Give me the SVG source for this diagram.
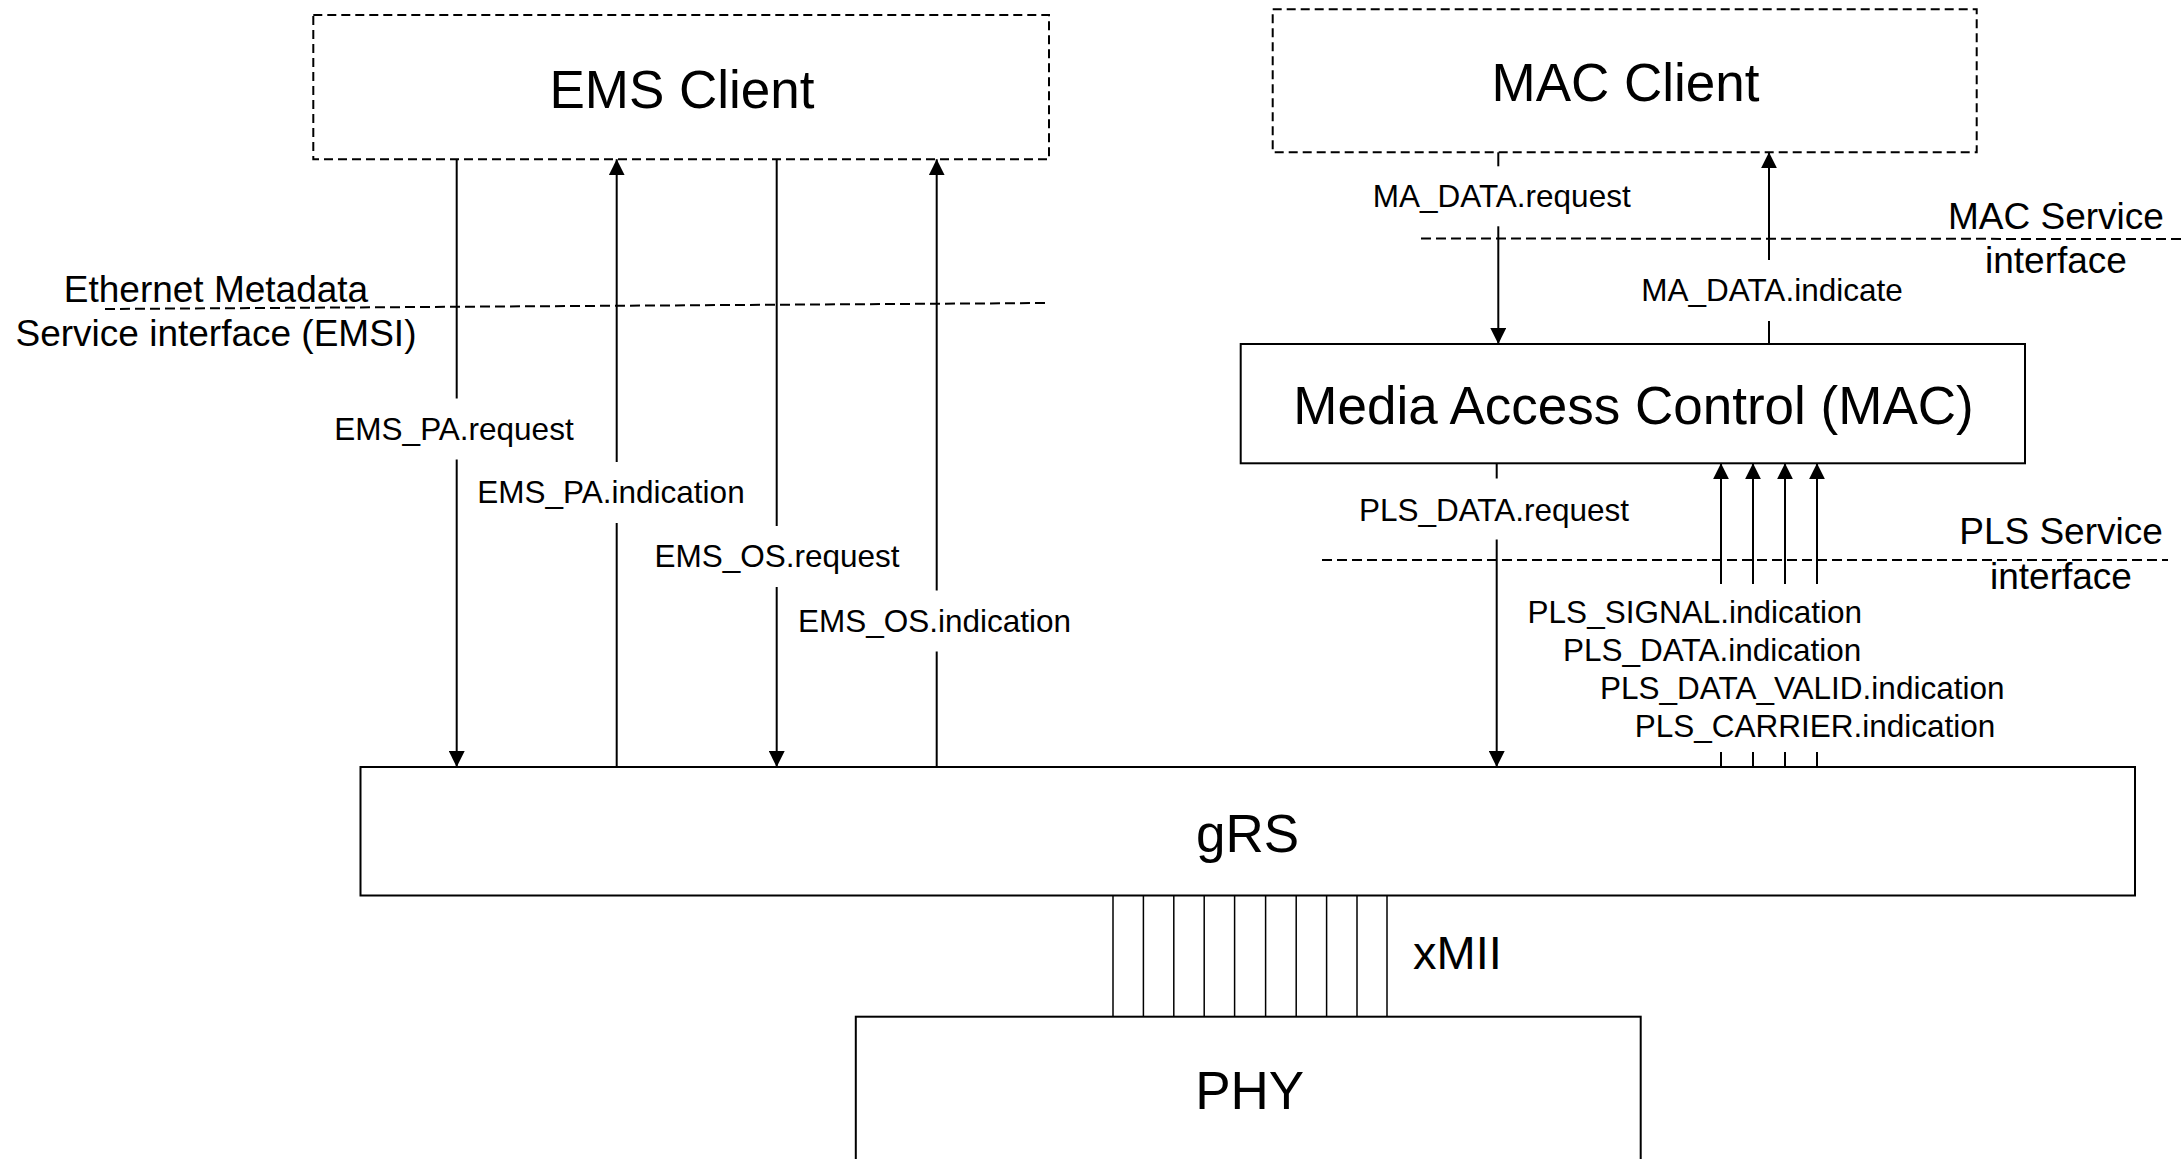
<svg xmlns="http://www.w3.org/2000/svg" width="2182" height="1159" viewBox="0 0 2182 1159">
<style>
  text { font-family: "Liberation Sans", Arial, sans-serif; fill: #000; }
  .big { font-size: 53px; text-anchor: middle; }
  .mid { font-size: 37px; text-anchor: middle; }
  .lbl { font-size: 31.5px; text-anchor: middle; }
  .lbls { font-size: 31.5px; text-anchor: start; }
  .box { fill: #fff; stroke: #000; stroke-width: 2; }
  .dbox { fill: #fff; stroke: #000; stroke-width: 2; stroke-dasharray: 9 5; }
  .iface { fill: none; stroke: #000; stroke-width: 2; stroke-dasharray: 10 5; }
  .conn { fill: none; stroke: #000; stroke-width: 2; marker-end: url(#arr); }
  .bus { stroke: #000; stroke-width: 1.5; }
  .bg { fill: #fff; stroke: none; }
</style>
<defs>
  <marker id="arr" markerUnits="userSpaceOnUse" markerWidth="16" markerHeight="16" viewBox="0 0 15 15" refX="15" refY="7.5" orient="auto">
    <path d="M0,0 L15,7.5 L0,15 z" fill="#000"/>
  </marker>
</defs>
<rect width="2182" height="1159" fill="#fff"/>

<g id="interfaces">
  <line class="iface" x1="105" y1="309" x2="1049" y2="303"/>
  <line class="iface" x1="1421" y1="238.5" x2="2182" y2="239"/>
  <line class="iface" x1="1322" y1="560" x2="2168" y2="560"/>
  <text class="mid" x="216" y="301.7">Ethernet Metadata</text>
  <text class="mid" x="216" y="345.7">Service interface (EMSI)</text>
  <text class="mid" x="2056" y="229.3">MAC Service</text>
  <text class="mid" x="2056" y="273.3">interface</text>
  <text class="mid" x="2061" y="544">PLS Service</text>
  <text class="mid" x="2061" y="589">interface</text>
</g>

<g id="ems-client">
  <rect class="dbox" x="313.3" y="15" width="735.7" height="144.3"/>
  <text class="big" x="682" y="108.3">EMS Client</text>
</g>
<g id="mac-client">
  <rect class="dbox" x="1272.7" y="9.3" width="704" height="143"/>
  <text class="big" x="1625.5" y="100.7">MAC Client</text>
</g>
<g id="mac">
  <rect class="box" x="1240.7" y="344" width="784.3" height="119.3"/>
  <text class="big" x="1633.5" y="424">Media Access Control (MAC)</text>
</g>
<g id="grs">
  <rect class="box" x="360.5" y="767" width="1774.5" height="128.5"/>
  <text class="big" x="1247.5" y="851.6">gRS</text>
</g>
<g id="phy">
  <rect class="box" x="855.8" y="1016.7" width="784.9" height="160"/>
  <text class="big" x="1249.7" y="1109">PHY</text>
</g>

<g id="connectors">
  <line class="conn" x1="456.7" y1="159.3" x2="456.7" y2="767"/>
  <line class="conn" x1="616.7" y1="767" x2="616.7" y2="159.3"/>
  <line class="conn" x1="776.7" y1="159.3" x2="776.7" y2="767"/>
  <line class="conn" x1="936.7" y1="767" x2="936.7" y2="159.3"/>
  <line class="conn" x1="1498.3" y1="152.3" x2="1498.3" y2="344"/>
  <line class="conn" x1="1769" y1="344" x2="1769" y2="152.3"/>
  <line class="conn" x1="1496.7" y1="463.3" x2="1496.7" y2="767"/>
  <line class="conn" x1="1721" y1="767" x2="1721" y2="463.3"/>
  <line class="conn" x1="1753" y1="767" x2="1753" y2="463.3"/>
  <line class="conn" x1="1785" y1="767" x2="1785" y2="463.3"/>
  <line class="conn" x1="1817" y1="767" x2="1817" y2="463.3"/>
  <g id="xmii">
    <line class="bus" x1="1113" y1="895.5" x2="1113" y2="1016.7"/>
    <line class="bus" x1="1143.4" y1="895.5" x2="1143.4" y2="1016.7"/>
    <line class="bus" x1="1173.8" y1="895.5" x2="1173.8" y2="1016.7"/>
    <line class="bus" x1="1204.2" y1="895.5" x2="1204.2" y2="1016.7"/>
    <line class="bus" x1="1234.6" y1="895.5" x2="1234.6" y2="1016.7"/>
    <line class="bus" x1="1265.6" y1="895.5" x2="1265.6" y2="1016.7"/>
    <line class="bus" x1="1296.2" y1="895.5" x2="1296.2" y2="1016.7"/>
    <line class="bus" x1="1326.6" y1="895.5" x2="1326.6" y2="1016.7"/>
    <line class="bus" x1="1357" y1="895.5" x2="1357" y2="1016.7"/>
    <line class="bus" x1="1387" y1="895.5" x2="1387" y2="1016.7"/>
  </g>
</g>

<g id="labels">
  <rect class="bg" x="330" y="398.5" width="248" height="61"/>
  <text class="lbl" x="454" y="439.5">EMS_PA.request</text>
  <rect class="bg" x="474" y="462" width="276" height="61"/>
  <text class="lbl" x="611" y="503">EMS_PA.indication</text>
  <rect class="bg" x="651" y="526" width="252" height="61"/>
  <text class="lbl" x="777" y="567">EMS_OS.request</text>
  <rect class="bg" x="795" y="590.5" width="280" height="61"/>
  <text class="lbl" x="934.5" y="631.5">EMS_OS.indication</text>
  <rect class="bg" x="1368" y="166.3" width="268" height="60"/>
  <text class="lbl" x="1501.7" y="207.3">MA_DATA.request</text>
  <rect class="bg" x="1637" y="260" width="272" height="61"/>
  <text class="lbl" x="1772" y="301">MA_DATA.indicate</text>
  <rect class="bg" x="1354" y="478.5" width="281" height="61"/>
  <text class="lbl" x="1494" y="520.5">PLS_DATA.request</text>
  <rect class="bg" x="1700" y="584" width="140" height="168"/>
  <text class="lbls" x="1527.6" y="623">PLS_SIGNAL.indication</text>
  <text class="lbls" x="1563" y="661">PLS_DATA.indication</text>
  <text class="lbls" x="1600" y="699">PLS_DATA_VALID.indication</text>
  <text class="lbls" x="1634.7" y="737">PLS_CARRIER.indication</text>
  <text style="font-size:47px" x="1413" y="969">xMII</text>
</g>
</svg>
